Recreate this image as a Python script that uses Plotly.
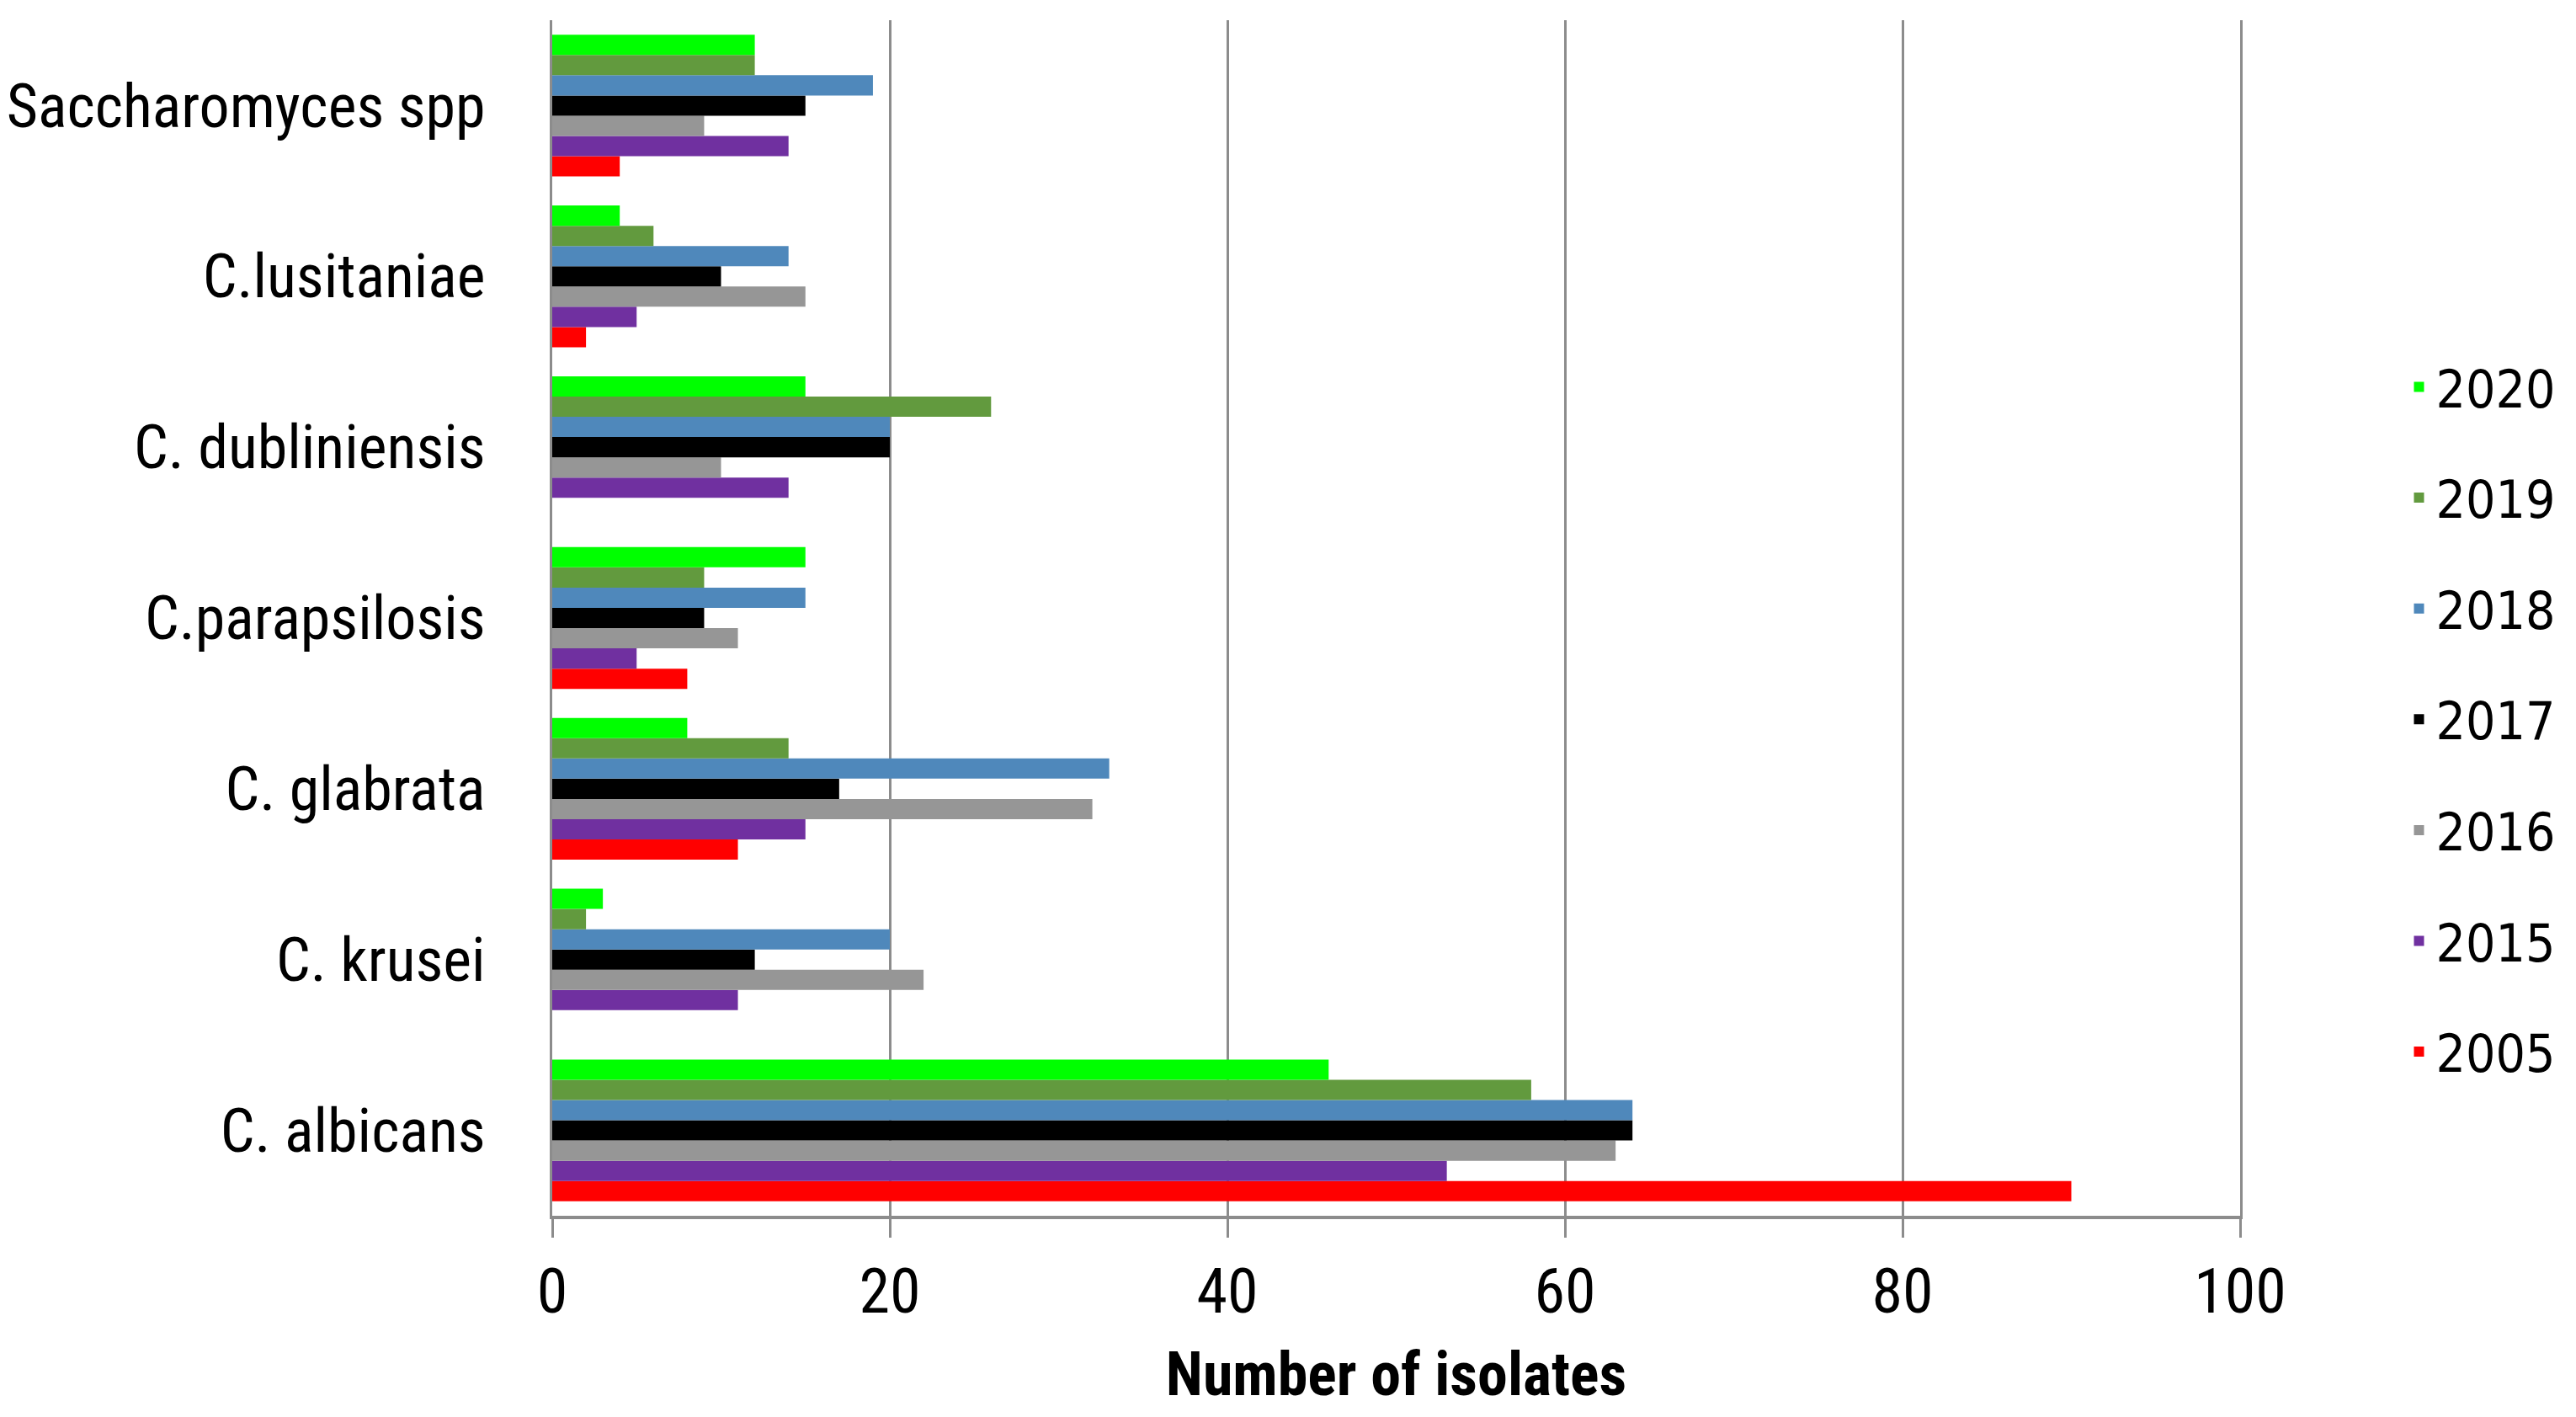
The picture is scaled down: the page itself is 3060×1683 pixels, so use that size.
import plotly.graph_objects as go

species = [
    "C. albicans",
    "C. krusei",
    "C. glabrata",
    "C.parapsilosis",
    "C. dubliniensis",
    "C.lusitaniae",
    "Saccharomyces spp",
]

years = ["2005", "2015", "2016", "2017", "2018", "2019", "2020"]

# isolates per species, same order as species
y2005 = [90, 0, 11, 8, 0, 2, 4]
y2015 = [53, 11, 15, 5, 14, 5, 14]
y2016 = [63, 22, 32, 11, 10, 15, 9]
y2017 = [64, 12, 17, 9, 20, 10, 15]
y2018 = [64, 20, 33, 15, 20, 14, 19]
y2019 = [58, 2, 14, 9, 26, 6, 12]
y2020 = [46, 3, 8, 15, 15, 4, 12]

series = [y2005, y2015, y2016, y2017, y2018, y2019, y2020]
colors = ["#ff0000", "#7030a0", "#969696", "#000000", "#4f88bb", "#629a3e", "#00ff00"]

label_font = "Liberation Sans Narrow, Roboto Condensed, Arial Narrow, sans-serif"

fig = go.Figure()
for i, (year, vals, col) in enumerate(zip(years, series, colors)):
    fig.add_trace(
        go.Bar(
            y=species,
            x=vals,
            name=year,
            orientation="h",
            marker=dict(color=col, line=dict(width=0)),
            legendgroup=year,
            legendrank=len(years) - i,  # newest year on top of legend
        )
    )

# page body has an 8px margin, so keep the figure inside the window
fig.update_layout(
    width=3044,
    height=1667,
    barmode="group",
    bargap=0.17,
    bargroupgap=0,
    plot_bgcolor="white",
    paper_bgcolor="white",
    margin=dict(l=648, r=385, t=16, b=231),
    legend=dict(
        x=1.096,
        xanchor="left",
        y=0.415,
        yanchor="middle",
        traceorder="grouped",
        tracegroupgap=48,
        font=dict(family="DejaVu Sans Condensed, DejaVu Sans", size=62, color="black"),
    ),
)

fig.update_xaxes(
    range=[0, 100],
    dtick=20,
    showgrid=True,
    gridcolor="#8c8c8c",
    gridwidth=3,
    zeroline=False,
    showline=True,
    linecolor="#8c8c8c",
    linewidth=4,
    ticks="outside",
    ticklen=22,
    tickwidth=3,
    tickcolor="#8c8c8c",
    ticklabelstandoff=0,
    tickfont=dict(family=label_font, size=74, color="black"),
    automargin=False,
    title=dict(
        text="<b>Number of isolates</b>",
        font=dict(family=label_font, size=72, color="black"),
        standoff=60,
    ),
)

# mirrored y line stands in for the gridline at 100
fig.update_yaxes(
    showgrid=False,
    showline=True,
    mirror=True,
    linecolor="#8c8c8c",
    linewidth=3,
    ticks="",
    ticklabelstandoff=62,
    automargin=False,
    tickfont=dict(family=label_font, size=72, color="black"),
)

fig.write_html("out.html")
